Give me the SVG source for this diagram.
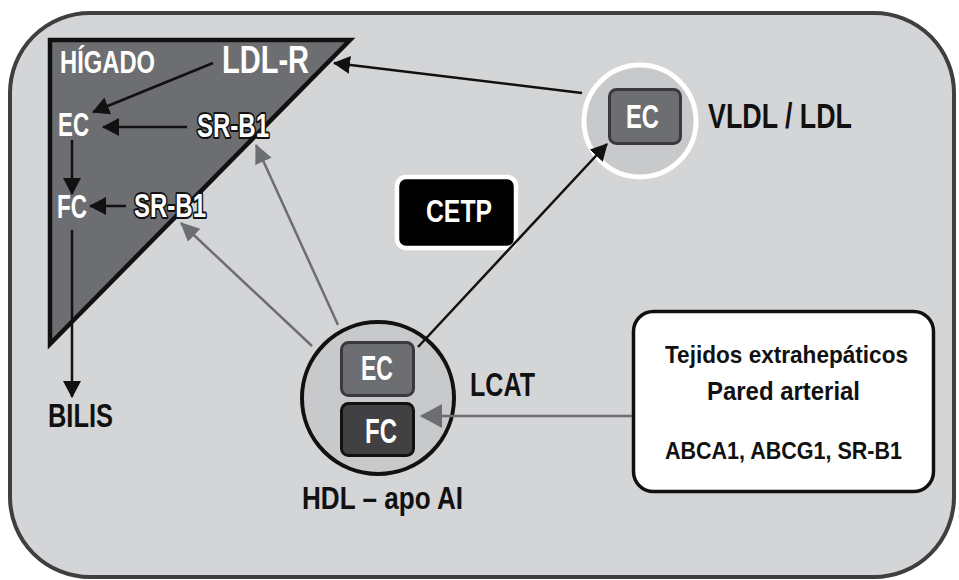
<svg xmlns="http://www.w3.org/2000/svg" width="959" height="580" viewBox="0 0 959 580">
<style>
.t{font-family:"Liberation Sans",Arial,sans-serif;font-weight:bold}
.w{fill:#ffffff}
.k{fill:#111111}
.o{fill:#ffffff;stroke:#111111;stroke-width:4;paint-order:stroke;stroke-linejoin:round}
.bl{stroke:#111111;stroke-width:2.5;fill:none}
.gl{stroke:#6d6e71;stroke-width:2.5;fill:none}
</style>
<defs>
<marker id="ab" markerUnits="userSpaceOnUse" markerWidth="20" markerHeight="20" refX="16" refY="9" orient="auto">
<path d="M0,0 L17,9 L0,18 z" fill="#111111"/>
</marker>
<marker id="ag" markerUnits="userSpaceOnUse" markerWidth="22" markerHeight="22" refX="18" refY="9" orient="auto">
<path d="M0,0 L19,9 L0,18 z" fill="#6d6e71"/>
</marker>
<marker id="ag2" markerUnits="userSpaceOnUse" markerWidth="26" markerHeight="26" refX="21" refY="12" orient="auto">
<path d="M0,0 L22,12 L0,24 z" fill="#6d6e71"/>
</marker>
</defs>
<rect x="10" y="13" width="944" height="564" rx="80" ry="80" fill="#d4d5d7" stroke="#3f3f41" stroke-width="4"/>
<g id="higado">
<path d="M50,40 L350,40 L50,344 z" fill="#6d6e71" stroke="#111111" stroke-width="4.5" stroke-linejoin="miter"/>
<text class="t w" x="60" y="73" font-size="31" textLength="95" lengthAdjust="spacingAndGlyphs">HÍGADO</text>
<text class="t w" x="222" y="73" font-size="38" textLength="87" lengthAdjust="spacingAndGlyphs">LDL-R</text>
<text class="t w" x="58" y="136" font-size="34" textLength="31" lengthAdjust="spacingAndGlyphs">EC</text>
<text class="t o" x="197" y="137" font-size="34" textLength="72" lengthAdjust="spacingAndGlyphs">SR-B1</text>
<text class="t w" x="57" y="218" font-size="34" textLength="30" lengthAdjust="spacingAndGlyphs">FC</text>
<text class="t o" x="134" y="217" font-size="34" textLength="72" lengthAdjust="spacingAndGlyphs">SR-B1</text>
</g>
<g id="bilis">
<text class="t k" x="48" y="427" font-size="33" textLength="65" lengthAdjust="spacingAndGlyphs">BILIS</text>
</g>
<g id="vldl">
<circle cx="640" cy="121" r="56" fill="#c8c9cb" stroke="#ffffff" stroke-width="5"/>
<rect x="609.5" y="89.5" width="71" height="54" rx="7" fill="#6d6e71" stroke="#3a3a3c" stroke-width="3"/>
<text class="t w" x="626" y="128" font-size="34" textLength="33" lengthAdjust="spacingAndGlyphs">EC</text>
<text class="t k" x="708" y="128" font-size="35" textLength="144" lengthAdjust="spacingAndGlyphs">VLDL / LDL</text>
</g>
<g id="cetp">
<rect x="397" y="177" width="119" height="71" rx="9" fill="#000000" stroke="#ffffff" stroke-width="4.5"/>
<text class="t w" x="426" y="222" font-size="32" textLength="66" lengthAdjust="spacingAndGlyphs">CETP</text>
</g>
<g id="hdl">
<circle cx="378" cy="398" r="76" fill="#c8c9cb" stroke="#111111" stroke-width="4"/>
<rect x="341.5" y="342.5" width="72" height="53" rx="7" fill="#6d6e71" stroke="#3a3a3c" stroke-width="3"/>
<text class="t w" x="361" y="380" font-size="35" textLength="32" lengthAdjust="spacingAndGlyphs">EC</text>
<rect x="341.5" y="403.5" width="72" height="52" rx="7" fill="#414042" stroke="#111111" stroke-width="3"/>
<text class="t w" x="365" y="443" font-size="35" textLength="32" lengthAdjust="spacingAndGlyphs">FC</text>
<text class="t k" x="302" y="509" font-size="32" textLength="161" lengthAdjust="spacingAndGlyphs">HDL – apo AI</text>
</g>
<g id="lcat">
<text class="t k" x="470" y="396" font-size="34" textLength="65" lengthAdjust="spacingAndGlyphs">LCAT</text>
</g>
<g id="tejidos">
<rect x="633.5" y="311.5" width="300" height="180" rx="20" fill="#ffffff" stroke="#111111" stroke-width="3.5"/>
<text class="t k" x="665" y="363" font-size="24" textLength="243" lengthAdjust="spacingAndGlyphs">Tejidos extrahepáticos</text>
<text class="t k" x="707" y="400" font-size="25" textLength="153" lengthAdjust="spacingAndGlyphs">Pared arterial</text>
<text class="t k" x="665" y="459" font-size="24" textLength="237" lengthAdjust="spacingAndGlyphs">ABCA1, ABCG1, SR-B1</text>
</g>
<g id="connectors">
<line class="bl" x1="213" y1="63" x2="93" y2="112" marker-end="url(#ab)"/>
<line class="bl" x1="187" y1="127" x2="103" y2="127" marker-end="url(#ab)"/>
<line class="bl" x1="72" y1="140" x2="72" y2="194" marker-end="url(#ab)"/>
<line class="bl" x1="126" y1="206" x2="90" y2="206" marker-end="url(#ab)"/>
<line class="bl" x1="72" y1="230" x2="72" y2="397" marker-end="url(#ab)"/>
<line class="bl" x1="582" y1="93" x2="334" y2="63" marker-end="url(#ab)"/>
<line class="bl" x1="418" y1="347" x2="607" y2="144" marker-end="url(#ab)"/>
<line class="gl" x1="338" y1="325" x2="256" y2="145" marker-end="url(#ag)"/>
<line class="gl" x1="312" y1="346" x2="181" y2="223" marker-end="url(#ag)"/>
<line class="gl" x1="632" y1="416" x2="421" y2="416" marker-end="url(#ag2)"/>
</g>
</svg>
